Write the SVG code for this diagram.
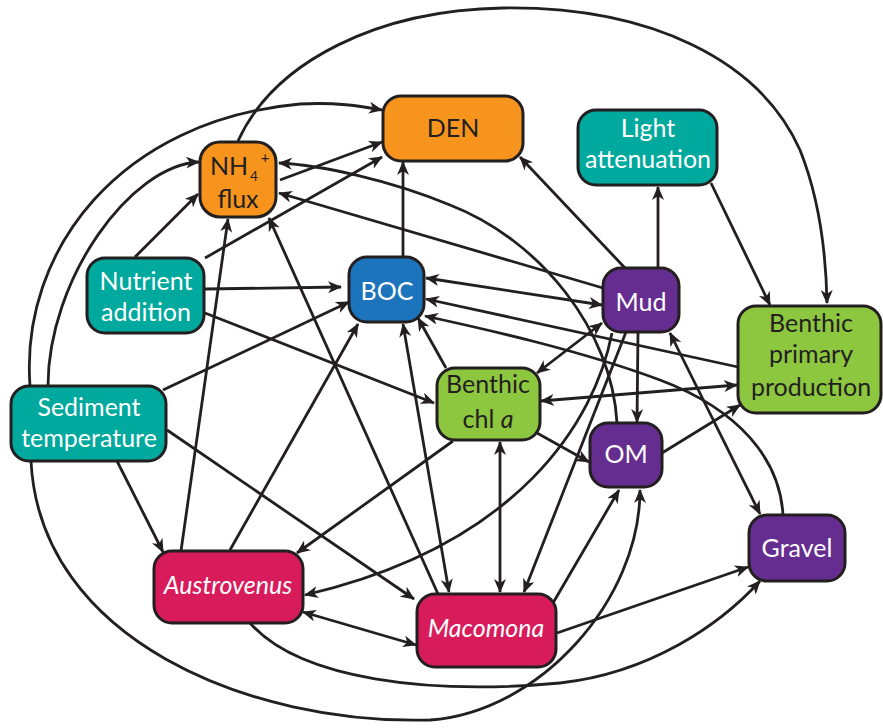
<svg xmlns="http://www.w3.org/2000/svg" width="883" height="728" viewBox="0 0 883 728">
<style>
.box{stroke:#231f20;stroke-width:3}
.or{fill:#f7941d}.te{fill:#00a99d}.bl{fill:#1c75bc}.pu{fill:#662d91}.gr{fill:#8dc63f}.cr{fill:#d81b5b}
text{font-family:Lato,"Open Sans","Liberation Sans",sans-serif;font-size:25px;text-anchor:middle}
.w{fill:#ffffff}.d{fill:#231f20}
.e path{fill:none;stroke:#231f20;stroke-width:2.8}
.a{marker-end:url(#ah)}
.b{marker-end:url(#ah);marker-start:url(#ah)}
.s{marker-start:url(#ah)}
</style>
<defs>
<marker id="ah" markerUnits="userSpaceOnUse" markerWidth="14" markerHeight="12" viewBox="0 0 14 12" refX="13" refY="6" orient="auto-start-reverse">
<path d="M0,0 L14,6 L0,12 L4,6 z" fill="#231f20"/>
</marker>
</defs>
<g id="connectors" class="e">
<path class="a" d="M238,141 C275,60 380,10 503,8 C650,6 760,60 800,150 C818,195 826,250 827,303"/>
<path class="a" d="M30,386 C20,250 120,120 300,104 C335,102 360,106 382,110"/>
<path class="a" d="M48,386 C48,280 130,165 199,162"/>
<path class="a" d="M135,257 L198,194"/>
<path class="a" d="M205,258 L382,157"/>
<path class="a" d="M205,289 L341,287"/>
<path class="a" d="M205,313 L434,403"/>
<path class="a" d="M163,390 L349,302"/>
<path class="a" d="M167,430 L414,599"/>
<path class="a" d="M117,461 L163,552"/>
<path class="a" d="M31,461 C40,640 250,725 430,720 C540,712 640,600 640,490"/>
<path class="a" d="M250,623 C300,680 430,695 560,683 C650,673 720,625 760,581"/>
<path class="a" d="M557,633 L748,567"/>
<path class="b" d="M303,612 L416,645"/>
<path class="a" d="M553,603 L619,490"/>
<path class="a" d="M626,332 L524,592"/>
<path class="b" d="M500,442 L500,592"/>
<path class="s" d="M269,218 L438,594"/>
<path class="b" d="M403,324 L449,592"/>
<path class="a" d="M446,368 L418,318"/>
<path class="a" d="M230,550 L358,324"/>
<path class="a" d="M181,551 L228,219"/>
<path class="a" d="M453,441 L297,553"/>
<path class="a" d="M612,333 C595,420 520,545 305,595"/>
<path class="a" d="M617,423 C612,330 540,240 450,205 C390,180 320,165 279,163"/>
<path class="a" d="M280,180 L382,142"/>
<path class="a" d="M403,257 L403,162"/>
<path class="a" d="M625,268 L520,157"/>
<path class="a" d="M658,268 L658,187"/>
<path class="a" d="M711,183 L770,305"/>
<path class="a" d="M603,288 L279,193"/>
<path class="b" d="M426,278 L602,305"/>
<path class="a" d="M738,367 L426,299"/>
<path class="a" d="M783,515 C780,460 740,410 660,380 C580,350 480,328 425,316"/>
<path class="b" d="M602,323 L537,373"/>
<path class="b" d="M541,401 L737,385"/>
<path class="a" d="M537,433 L589,462"/>
<path class="a" d="M662,453 L740,405"/>
<path class="a" d="M638,332 L637,422"/>
<path class="b" d="M670,333 L760,514"/>
</g>
<g id="den"><rect class="box or" x="383" y="96" width="140" height="65" rx="18"/><text class="d" x="453" y="137">DEN</text></g>
<g id="nh4"><rect class="box or" x="200" y="142" width="76" height="75" rx="20"/>
<text class="d" x="210" y="175" style="text-anchor:start">NH<tspan dx="2" dy="6" style="font-size:13px">4</tspan><tspan dx="3" dy="-18" style="font-size:15px">+</tspan></text>
<text class="d" x="238" y="208">flux</text></g>
<g id="light"><rect class="box te" x="578" y="110" width="139" height="75" rx="18"/><text class="w" x="648" y="137">Light</text><text class="w" x="648" y="168">attenuation</text></g>
<g id="nutrient"><rect class="box te" x="87" y="258" width="117" height="75" rx="18"/><text class="w" x="146" y="290">Nutrient</text><text class="w" x="146" y="321">addition</text></g>
<g id="boc"><rect class="box bl" x="349" y="257" width="75" height="65" rx="18"/><text class="w" x="387" y="300">BOC</text></g>
<g id="sediment"><rect class="box te" x="11" y="386" width="155" height="75" rx="18"/><text class="w" x="89" y="416">Sediment</text><text class="w" x="89" y="447">temperature</text></g>
<g id="mud"><rect class="box pu" x="603" y="268" width="76" height="64" rx="18"/><text class="w" x="641" y="311">Mud</text></g>
<g id="bpp"><rect class="box gr" x="738" y="306" width="143" height="107" rx="18"/><text class="d" x="811" y="332">Benthic</text><text class="d" x="811" y="363">primary</text><text class="d" x="811" y="396">production</text></g>
<g id="chla"><rect class="box gr" x="437" y="368" width="103" height="72" rx="18"/><text class="d" x="488" y="393">Benthic</text><text class="d" x="488" y="428">chl <tspan font-style="italic">a</tspan></text></g>
<g id="om"><rect class="box pu" x="590" y="423" width="72" height="64" rx="18"/><text class="w" x="626" y="463">OM</text></g>
<g id="gravel"><rect class="box pu" x="749" y="515" width="96" height="66" rx="18"/><text class="w" x="797" y="557">Gravel</text></g>
<g id="austrovenus"><rect class="box cr" x="154" y="551" width="149" height="72" rx="18"/><text class="w" x="228" y="594" font-style="italic">Austrovenus</text></g>
<g id="macomona"><rect class="box cr" x="417" y="594" width="139" height="73" rx="18"/><text class="w" x="486" y="637" font-style="italic">Macomona</text></g>
</svg>
